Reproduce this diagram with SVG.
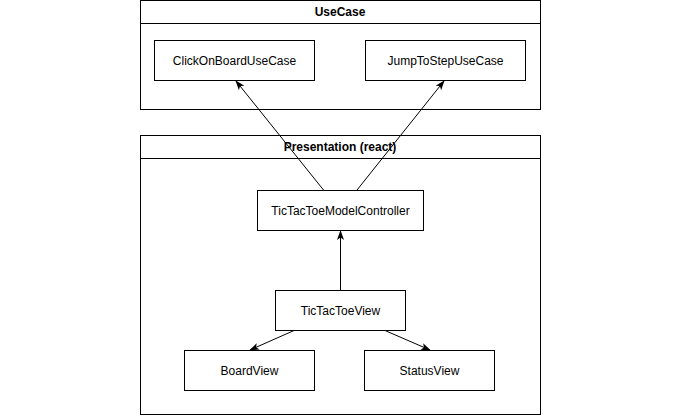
<svg xmlns="http://www.w3.org/2000/svg" width="680" height="416" viewBox="0 0 680 416">
<defs>
<style>
.box{fill:#fff;stroke:#000;stroke-width:1}
.t{font-family:"Liberation Sans",Arial,sans-serif;font-size:12px;fill:#000;text-anchor:middle;dominant-baseline:central}
.h{font-weight:bold}
.e{fill:none;stroke:#000;stroke-width:1}
</style>
<marker id="ah" viewBox="0 0 10 10" refX="9" refY="5" markerWidth="10" markerHeight="10" markerUnits="userSpaceOnUse" orient="auto">
<path d="M0,1.5 L10,5 L0,8.5 L2.5,5 Z" fill="#000"/>
</marker>
</defs>
<rect width="680" height="416" fill="#fff"/>
<g id="usecase">
<rect class="box" x="140.5" y="0.5" width="400" height="109"/>
<line class="e" x1="140.5" y1="23.5" x2="540.5" y2="23.5"/>
<text class="t h" x="340" y="12">UseCase</text>
</g>
<g id="presentation">
<rect class="box" x="140.5" y="135.5" width="400" height="279"/>
<line class="e" x1="140.5" y1="158.5" x2="540.5" y2="158.5"/>
<text class="t h" x="340" y="147">Presentation (react)</text>
</g>
<g id="clickOnBoard">
<rect class="box" x="154.5" y="40.5" width="160" height="40"/>
<text class="t" x="234.5" y="60.5">ClickOnBoardUseCase</text>
</g>
<g id="jumpToStep">
<rect class="box" x="365.5" y="40.5" width="160" height="40"/>
<text class="t" x="445.5" y="60.5">JumpToStepUseCase</text>
</g>
<g id="modelController">
<rect class="box" x="257.5" y="190.5" width="166" height="40"/>
<text class="t" x="340.5" y="210.5">TicTacToeModelController</text>
</g>
<g id="tictactoeView">
<rect class="box" x="275.5" y="290.5" width="130" height="40"/>
<text class="t" x="340.5" y="310.5">TicTacToeView</text>
</g>
<g id="boardView">
<rect class="box" x="184.5" y="350.5" width="130" height="40"/>
<text class="t" x="249.5" y="370.5">BoardView</text>
</g>
<g id="statusView">
<rect class="box" x="364.5" y="350.5" width="130" height="40"/>
<text class="t" x="429.5" y="370.5">StatusView</text>
</g>
<g id="connectors">
<line class="e" x1="323.5" y1="190" x2="236" y2="81" marker-end="url(#ah)"/>
<line class="e" x1="357" y1="190" x2="444" y2="81" marker-end="url(#ah)"/>
<line class="e" x1="340.5" y1="290" x2="340.5" y2="231" marker-end="url(#ah)"/>
<line class="e" x1="294" y1="330.5" x2="250" y2="350" marker-end="url(#ah)"/>
<line class="e" x1="385" y1="330.5" x2="430" y2="350" marker-end="url(#ah)"/>
</g>
</svg>
